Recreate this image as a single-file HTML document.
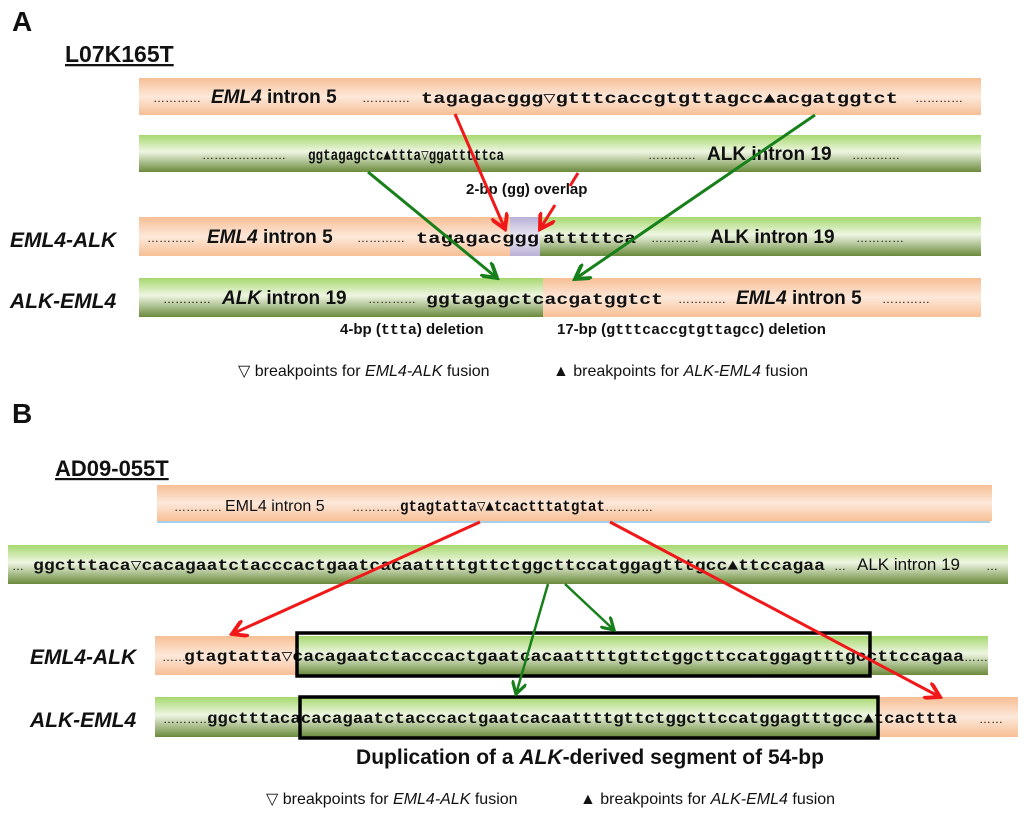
<!DOCTYPE html>
<html><head><meta charset="utf-8"><style>
body{margin:0;background:#fff}
svg{display:block}
.m{font-family:"Liberation Mono",monospace;font-weight:bold;font-size:16px;fill:#111}
.s{font-family:"Liberation Sans",sans-serif;font-weight:bold;fill:#111}
.n{font-family:"Liberation Sans",sans-serif;fill:#111;font-size:16px}
.d{font-family:"Liberation Sans",sans-serif;fill:#111;font-size:12px}
</style></head><body>
<svg width="1024" height="815" viewBox="0 0 1024 815" xmlns="http://www.w3.org/2000/svg">
<defs>
<linearGradient id="o" x1="0" y1="0" x2="0" y2="1">
<stop offset="0" stop-color="#f7bf95"/><stop offset="0.5" stop-color="#fde8da"/><stop offset="1" stop-color="#f7bf95"/></linearGradient>
<linearGradient id="g" x1="0" y1="0" x2="0" y2="1">
<stop offset="0" stop-color="#a6d86e"/><stop offset="0.45" stop-color="#eef6e2"/><stop offset="1" stop-color="#6a8a3c"/></linearGradient>
<linearGradient id="p" x1="0" y1="0" x2="0" y2="1">
<stop offset="0" stop-color="#b9b0d6"/><stop offset="0.5" stop-color="#ece9f4"/><stop offset="1" stop-color="#b9b0d6"/></linearGradient>
<marker id="ar" markerWidth="6" markerHeight="6" refX="5" refY="3" orient="auto" markerUnits="strokeWidth"><path d="M0,0 L5,3 L0,6" fill="none" stroke="#f01818" stroke-width="1.3"/></marker>
<marker id="ag" markerWidth="6" markerHeight="6" refX="5" refY="3" orient="auto" markerUnits="strokeWidth"><path d="M0,0 L5,3 L0,6" fill="none" stroke="#17801a" stroke-width="1.3"/></marker>
</defs>

<text x="12" y="31" class="s" font-size="28">A</text>
<text x="65" y="62" class="s" font-size="23" text-decoration="underline">L07K165T</text>

<!-- A bars -->
<rect x="139" y="78" width="842" height="37" fill="url(#o)"/>
<rect x="139" y="135" width="842" height="37" fill="url(#g)"/>
<rect x="139" y="217" width="371" height="39" fill="url(#o)"/>
<rect x="510" y="217" width="30" height="39" fill="url(#p)"/>
<rect x="540" y="217" width="441" height="39" fill="url(#g)"/>
<rect x="139" y="278" width="404" height="39" fill="url(#g)"/>
<rect x="543" y="278" width="438" height="39" fill="url(#o)"/>

<text x="153" y="102" class="d">…………</text>
<text x="211" y="103" class="s" font-size="19"><tspan font-style="italic">EML4</tspan> intron 5</text>
<text x="362" y="102" class="d">…………</text>
<text x="421" y="103" class="m" textLength="477" lengthAdjust="spacingAndGlyphs">tagagacggg▽gtttcaccgtgttagcc▲acgatggtct</text>
<text x="915" y="102" class="d">…………</text>

<text x="202" y="159" class="d">…………………</text>
<text x="308" y="160" class="m" textLength="196" lengthAdjust="spacingAndGlyphs">ggtagagctc▲ttta▽ggatttttca</text>
<text x="648" y="159" class="d">…………</text>
<text x="707" y="160" class="s" font-size="19">ALK intron 19</text>
<text x="852" y="159" class="d">…………</text>

<text x="147" y="242" class="d">…………</text>
<text x="207" y="243" class="s" font-size="19"><tspan font-style="italic">EML4</tspan> intron 5</text>
<text x="357" y="242" class="d">…………</text>
<text x="416" y="243" class="m" textLength="123" lengthAdjust="spacingAndGlyphs">tagagacggg</text>
<text x="543" y="243" class="m" textLength="93" lengthAdjust="spacingAndGlyphs">atttttca</text>
<text x="651" y="242" class="d">…………</text>
<text x="710" y="243" class="s" font-size="19">ALK intron 19</text>
<text x="856" y="242" class="d">…………</text>

<text x="163" y="303" class="d">…………</text>
<text x="222" y="304" class="s" font-size="19"><tspan font-style="italic">ALK</tspan> intron 19</text>
<text x="368" y="303" class="d">…………</text>
<text x="426" y="304" class="m" textLength="237" lengthAdjust="spacingAndGlyphs">ggtagagctcacgatggtct</text>
<text x="678" y="303" class="d">…………</text>
<text x="736" y="304" class="s" font-size="19"><tspan font-style="italic">EML4</tspan> intron 5</text>
<text x="882" y="303" class="d">…………</text>

<text x="466" y="194" class="s" font-size="15">2-bp (<tspan font-family="Liberation Mono">gg</tspan>) overlap</text>
<text x="340" y="334" class="s" font-size="15">4-bp (<tspan font-family="Liberation Mono">ttta</tspan>) deletion</text>
<text x="557" y="334" class="s" font-size="15">17-bp (<tspan font-family="Liberation Mono">gtttcaccgtgttagcc</tspan>) deletion</text>

<text x="10" y="247" class="s" font-size="21" font-style="italic">EML4-ALK</text>
<text x="10" y="308" class="s" font-size="21" font-style="italic">ALK-EML4</text>

<!-- A arrows -->
<line x1="455" y1="114" x2="505" y2="229" stroke="#f01818" stroke-width="3" marker-end="url(#ar)"/>
<line x1="578" y1="173" x2="570" y2="186" stroke="#f01818" stroke-width="3"/>
<line x1="555" y1="205" x2="540" y2="229" stroke="#f01818" stroke-width="3" marker-end="url(#ar)"/>
<line x1="368" y1="172" x2="497" y2="278" stroke="#17801a" stroke-width="3" marker-end="url(#ag)"/>
<line x1="815" y1="115" x2="575" y2="279" stroke="#17801a" stroke-width="3" marker-end="url(#ag)"/>

<text x="238" y="376" class="n">▽ breakpoints for <tspan font-style="italic">EML4-ALK</tspan> fusion</text>
<text x="553" y="376" class="n">▲ breakpoints for <tspan font-style="italic">ALK-EML4</tspan> fusion</text>

<!-- B -->
<text x="12" y="423" class="s" font-size="28">B</text>
<text x="55" y="476" class="s" font-size="22" text-decoration="underline">AD09-055T</text>

<rect x="157" y="485" width="835" height="36" fill="url(#o)"/>
<line x1="157" y1="522" x2="990" y2="522" stroke="#a8d0e8" stroke-width="2"/>
<rect x="8" y="545" width="1000" height="39" fill="url(#g)"/>
<rect x="155" y="636" width="142" height="39" fill="url(#o)"/>
<rect x="297" y="636" width="691" height="39" fill="url(#g)"/>
<rect x="155" y="697" width="725" height="40" fill="url(#g)"/>
<rect x="880" y="697" width="138" height="40" fill="url(#o)"/>

<text x="174" y="511" class="d">…………</text>
<text x="225" y="511" class="s" font-size="16" font-weight="normal" style="font-weight:normal">EML4 intron 5</text>
<text x="352" y="511" class="d">…………</text>
<text x="400" y="511" class="m" font-size="14" textLength="205" lengthAdjust="spacingAndGlyphs">gtagtatta▽▲tcactttatgtat</text>
<text x="605" y="511" class="d">…………</text>

<text x="12" y="570" class="d">…</text>
<text x="33" y="570" class="m" font-size="14" textLength="792" lengthAdjust="spacingAndGlyphs">ggctttaca▽cacagaatctacccactgaatcacaattttgttctggcttccatggagtttgcc▲ttccagaa</text>
<text x="834" y="570" class="d">…</text>
<text x="857" y="570" class="s" font-size="17" style="font-weight:normal">ALK intron 19</text>
<text x="986" y="570" class="d">…</text>

<text x="162" y="661" class="d">……</text>
<text x="184" y="661" class="m" font-size="14" textLength="780" lengthAdjust="spacingAndGlyphs">gtagtatta▽cacagaatctacccactgaatcacaattttgttctggcttccatggagtttgccttccagaa</text>
<text x="964" y="661" class="d">……</text>

<text x="163" y="723" class="d">…………</text>
<text x="207" y="723" class="m" font-size="14" textLength="750" lengthAdjust="spacingAndGlyphs">ggctttacacacagaatctacccactgaatcacaattttgttctggcttccatggagtttgcc▲tcacttta</text>
<text x="979" y="723" class="d">……</text>

<rect x="297" y="633" width="573" height="43" fill="none" stroke="#000" stroke-width="3.5"/>
<rect x="300" y="697" width="578" height="41" fill="none" stroke="#000" stroke-width="3.5"/>

<text x="30" y="664" class="s" font-size="21" font-style="italic">EML4-ALK</text>
<text x="30" y="727" class="s" font-size="21" font-style="italic">ALK-EML4</text>

<!-- B arrows -->
<line x1="480" y1="522" x2="232" y2="634" stroke="#f01818" stroke-width="3" marker-end="url(#ar)"/>
<line x1="610" y1="522" x2="940" y2="697" stroke="#f01818" stroke-width="3" marker-end="url(#ar)"/>
<line x1="548" y1="584" x2="516" y2="694" stroke="#17801a" stroke-width="2.5" marker-end="url(#ag)"/>
<line x1="565" y1="584" x2="614" y2="630" stroke="#17801a" stroke-width="2.5" marker-end="url(#ag)"/>

<text x="590" y="764" class="s" font-size="21" text-anchor="middle">Duplication of a <tspan font-style="italic">ALK</tspan>-derived segment of 54-bp</text>

<text x="266" y="804" class="n">▽ breakpoints for <tspan font-style="italic">EML4-ALK</tspan> fusion</text>
<text x="580" y="804" class="n">▲ breakpoints for <tspan font-style="italic">ALK-EML4</tspan> fusion</text>
</svg>
</body></html>
